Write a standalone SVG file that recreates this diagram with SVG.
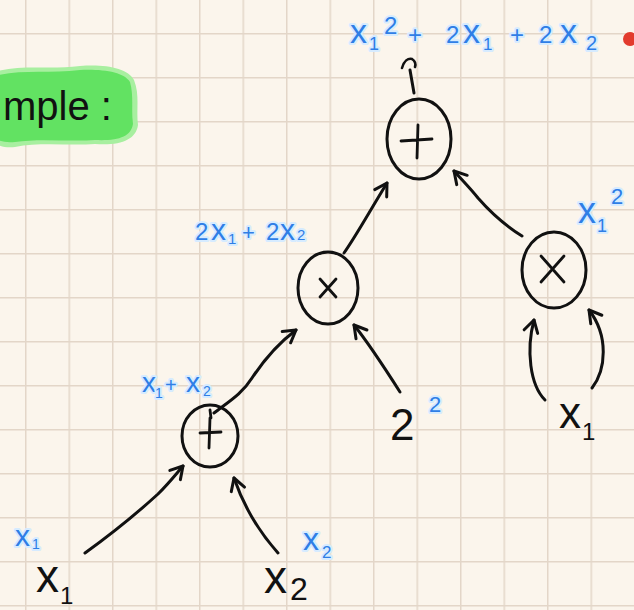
<svg xmlns="http://www.w3.org/2000/svg" width="634" height="610" viewBox="0 0 634 610">
<defs>
<pattern id="grid" x="25" y="33" width="43.5" height="44" patternUnits="userSpaceOnUse">
<line x1="0.5" y1="0" x2="0.5" y2="44" stroke="#e3d6c8" stroke-width="2"/>
<line x1="0" y1="0.5" x2="43.5" y2="0.5" stroke="#e3d6c8" stroke-width="2"/>
</pattern>
<marker id="arr" viewBox="-14 -10 18 20" markerWidth="18" markerHeight="20" refX="0" refY="0" orient="auto" markerUnits="userSpaceOnUse">
<path d="M-12,-7 L0,0 L-12,7" fill="none" stroke="#111" stroke-width="3" stroke-linecap="round" stroke-linejoin="round"/>
</marker>
<style>
.node ellipse{fill:none;stroke:#111;stroke-width:3}
.op{fill:none;stroke:#111;stroke-width:2.8;stroke-linecap:round}
.edge{fill:none;stroke:#111;stroke-width:3;stroke-linecap:round;marker-end:url(#arr)}
.blue{fill:#2f7ee6;font-family:"Liberation Sans",Arial,sans-serif;stroke:#d6ebff;stroke-width:4;paint-order:stroke;stroke-linejoin:round}
.ink{fill:#111;font-family:"Liberation Sans",Arial,sans-serif}
</style>
</defs>
<rect width="634" height="610" fill="#fbf5ec"/>
<rect width="634" height="610" fill="url(#grid)"/>

<g id="title">
<path d="M-5,72 C20,64 50,70 80,66 C105,64 128,68 134,80 C140,95 136,110 138,125 C136,140 120,146 95,144 C70,146 40,142 15,147 C5,148 -5,146 -5,140 Z" fill="#a8efa0"/>
<path d="M-5,76 C20,69 50,74 80,70 C103,69 124,72 130,82 C134,96 131,110 133,124 C131,137 118,141 95,140 C70,142 40,138 15,142 C5,143 -5,141 -5,136 Z" fill="#62e262"/>
<text class="ink" x="3" y="120" font-size="40">mple :</text>
</g>

<g id="connectors">
<path class="edge" d="M214,413 C228,402 242,394 252,378 C264,360 280,342 296,330"/>
<path class="edge" d="M400,392 C386,370 370,345 354,325"/>
<path class="edge" d="M344,253 C356,236 368,214 387,183"/>
<path class="edge" d="M522,236 C506,226 492,214 478,198 C470,188 462,180 454,171"/>
<path class="edge" d="M545,400 C530,385 526,350 534,320"/>
<path class="edge" d="M592,388 C606,370 609,336 589,310"/>
<path class="edge" d="M85,553 C110,535 135,515 158,494 C170,482 176,474 183,466"/>
<path class="edge" d="M278,553 C262,535 245,510 234,478"/>
<path fill="none" stroke="#111" stroke-width="3" stroke-linecap="round" d="M414,93 L410,70"/>
<path fill="none" stroke="#111" stroke-width="2.6" stroke-linecap="round" d="M402,68 C404,61 408,58 412,59 C415,61 416,64 415,67"/>
</g>

<g id="node-add-top" class="node">
<ellipse cx="419" cy="139" rx="32" ry="40"/>
<path class="op" d="M401,141 L432,139 M418,125 L417,158"/>
</g>

<g id="node-mul-mid" class="node">
<ellipse cx="328" cy="288" rx="30" ry="36"/>
<path class="op" d="M320,279 L336,297 M336,279 L320,297"/>
</g>

<g id="node-mul-right" class="node">
<ellipse cx="554" cy="270" rx="32" ry="38"/>
<path class="op" d="M541,256 L564,282 M564,256 L541,282"/>
</g>

<g id="node-add-bottom" class="node">
<ellipse cx="210" cy="436" rx="28" ry="31"/>
<path class="op" d="M200,433 L221,432 M210,418 L209,448 M210,410 L211,418"/>
</g>

<g id="labels">
<text class="blue" font-size="34"><tspan x="350" y="43">x</tspan><tspan x="369" y="50" font-size="18">1</tspan><tspan x="384" y="34" font-size="24">2</tspan><tspan x="408" y="43" font-size="24">+</tspan><tspan x="446" y="43" font-size="24">2</tspan><tspan x="463" y="43">x</tspan><tspan x="483" y="50" font-size="17">1</tspan><tspan x="510" y="43" font-size="24">+</tspan><tspan x="539" y="43" font-size="24">2</tspan><tspan x="560" y="43">x</tspan><tspan x="586" y="50" font-size="20">2</tspan></text>
<circle cx="630" cy="39" r="7" fill="#e23b2e"/>
<text class="blue" font-size="30"><tspan x="195" y="240" font-size="24">2</tspan><tspan x="211" y="240">x</tspan><tspan x="228" y="244" font-size="15">1</tspan><tspan x="242" y="240" font-size="22">+</tspan><tspan x="266" y="240" font-size="24">2</tspan><tspan x="280" y="240">x</tspan><tspan x="297" y="240" font-size="15">2</tspan></text>
<text class="blue" font-size="28"><tspan x="142" y="392">x</tspan><tspan x="155" y="398" font-size="14">1</tspan><tspan x="165" y="392" font-size="20">+</tspan><tspan x="186" y="392">x</tspan><tspan x="203" y="396" font-size="14">2</tspan></text>
<text class="blue" font-size="36"><tspan x="578" y="223">x</tspan><tspan x="597" y="232" font-size="18">1</tspan><tspan x="611" y="204" font-size="22">2</tspan></text>
<text class="blue" x="429" y="412" font-size="22">2</text>
<text class="blue" font-size="30"><tspan x="15" y="546">x</tspan><tspan x="32" y="549" font-size="14">1</tspan></text>
<text class="blue" font-size="32"><tspan x="303" y="550">x</tspan><tspan x="322" y="558" font-size="17">2</tspan></text>
</g>

<g id="inputs">
<text class="ink" x="390" y="440" font-size="44">2</text>
<text class="ink" font-size="44"><tspan x="559" y="428">x</tspan><tspan x="582" y="440" font-size="24">1</tspan></text>
<text class="ink" font-size="46"><tspan x="36" y="592">x</tspan><tspan x="60" y="604" font-size="24">1</tspan></text>
<text class="ink" font-size="46"><tspan x="264" y="593">x</tspan><tspan x="290" y="600" font-size="32">2</tspan></text>
</g>
</svg>
